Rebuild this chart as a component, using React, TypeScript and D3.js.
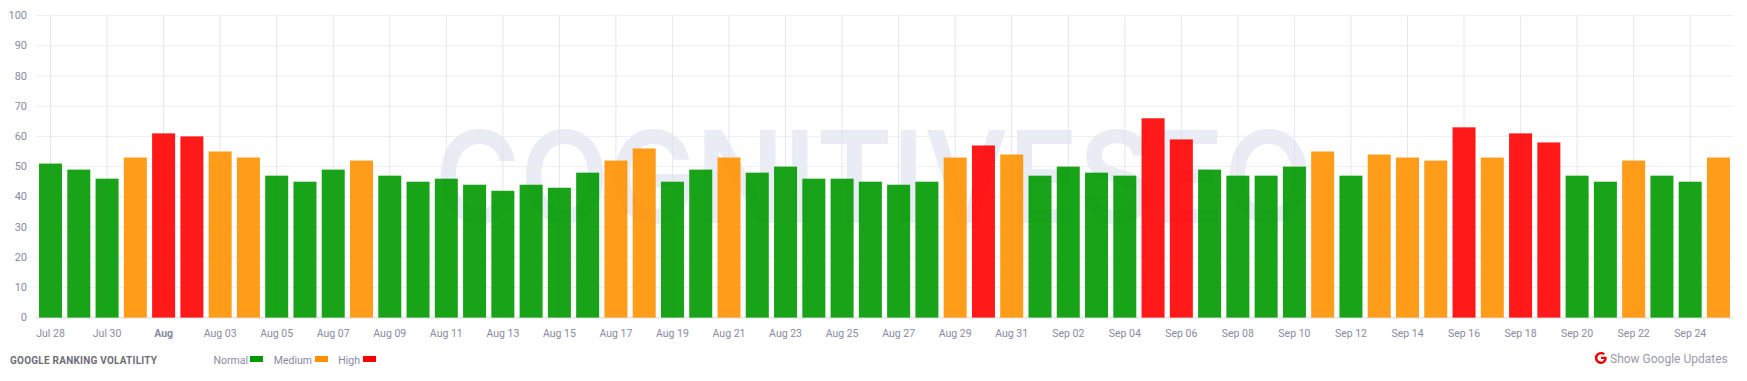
import React from "react";
import * as d3 from "d3";

const dates: string[] = [
  "Jul 28","Jul 29","Jul 30","Jul 31","Aug 01","Aug 02","Aug 03","Aug 04","Aug 05","Aug 06","Aug 07","Aug 08","Aug 09","Aug 10","Aug 11","Aug 12","Aug 13","Aug 14","Aug 15","Aug 16","Aug 17","Aug 18","Aug 19","Aug 20","Aug 21","Aug 22","Aug 23","Aug 24","Aug 25","Aug 26","Aug 27","Aug 28","Aug 29","Aug 30","Aug 31","Sep 01","Sep 02","Sep 03","Sep 04","Sep 05","Sep 06","Sep 07","Sep 08","Sep 09","Sep 10","Sep 11","Sep 12","Sep 13","Sep 14","Sep 15","Sep 16","Sep 17","Sep 18","Sep 19","Sep 20","Sep 21","Sep 22","Sep 23","Sep 24","Sep 25",
];
const values: number[] = [
  51,49,46,53,61,60,55,53,47,45,49,52,47,45,46,44,42,44,43,48,52,56,45,49,53,48,50,46,46,45,44,45,53,57,54,47,50,48,47,66,59,49,47,47,50,55,47,54,53,52,63,53,61,58,47,45,52,47,45,53,
];
const yTicks: number[] = [0,10,20,30,40,50,60,70,80,90,100];
const levelColors: Record<string,string> = { Normal: "#009900", Medium: "#ff9100", High: "#ff0000" };
const levelNames: string[] = ["Normal","Medium","High"];
const level = (v: number) => (v <= 51 ? "Normal" : v <= 56 ? "Medium" : "High");
const font = "Roboto, sans-serif";
const axisColor = "#8a8a9e";

export default function App() {
  const x = d3.scaleBand<string>().domain(dates).range([36.4, 1732.6]).paddingInner(0.186).paddingOuter(0.093);
  const y = d3.scaleLinear().domain([0, 100]).range([317.6, 15.6]);
  const cx = (d: string) => (x(d) as number) + x.bandwidth() / 2;
  return (
    <svg width={1747} height={381} style={{ position: "absolute", left: 0, top: 0, background: "#fff" }} fontFamily={font}>
      <text x={435} y={223} fontFamily="Inter, sans-serif" fontWeight={600} fontSize={128} fill="#e9ecf4" textLength={878} lengthAdjust="spacingAndGlyphs">COGNITIVESEO</text>
      {yTicks.map((t) => (
        <g key={t}>
          <line x1={36} x2={1733} y1={y(t)} y2={y(t)} stroke={t === 0 ? "#e6e6ea" : "#eeeef1"} strokeWidth={t === 0 ? 1.6 : 1} />
          <text x={27} y={y(t) + 3.5} textAnchor="end" fontSize={11} fill={axisColor}>{t}</text>
        </g>
      ))}
      {dates.map((d, i) => i % 2 === 0 ? (
        <g key={d}>
          <line x1={cx(d)} x2={cx(d)} y1={15.6} y2={317.6} stroke="#dfdfe6" strokeOpacity={0.75} />
          <text x={cx(d)} y={337} textAnchor="middle" fontSize={10.5} fontWeight={d === "Aug 01" ? 700 : 400} fill={axisColor}>{d === "Aug 01" ? "Aug" : d}</text>
        </g>
      ) : null)}
      {dates.map((d, i) => (
        <rect key={d} x={x(d)} y={y(values[i])} width={x.bandwidth()} height={y(0) - y(values[i])} fill={levelColors[level(values[i])]} fillOpacity={0.9} />
      ))}
      <text x={10} y={364} fontSize={10} fontWeight={700} fill="#6e6e78" letterSpacing={0.23}>GOOGLE RANKING VOLATILITY</text>
      {levelNames.map((n, i) => (
        <g key={n}>
          <text x={[248, 312, 360][i]} y={364} textAnchor="end" fontSize={10.5} fill={axisColor}>{n}</text>
          <rect x={[250, 315, 363][i]} y={356} width={13} height={6} fill={levelColors[n]} />
        </g>
      ))}
      <g transform="translate(1594.5,351.5) scale(0.54)">
        <path d="M22.5 11.9c0-.8-.1-1.5-.2-2.2H12v4.3h6c-.3 1.4-1 2.5-2.2 3.3v2.8h3.6c2.1-1.9 3.1-4.8 3.1-8.2z M12 23c3 0 5.5-1 7.400-2.700l-3.600-2.800c-1 .7-2.300 1.100-3.800 1.100-2.900 0-5.400-2-6.300-4.600H1.900v2.900C3.700 20.500 7.600 23 12 23z M5.700 14c-.2-.7-.4-1.400-.4-2.200s.1-1.500.4-2.200V6.700H1.900C1.200 8.200.8 9.900.8 11.800s.4 3.600 1.100 5.100z M12 5c1.600 0 3.100.6 4.200 1.700l3.200-3.200C17.500 1.700 15 .7 12 .7 7.600.7 3.700 3.200 1.900 6.700l3.800 2.900C6.600 7 9.100 5 12 5z" fill="#f00000" />
      </g>
      <text x={1610} y={363} fontSize={12} fill="#9a9aa8">Show Google Updates</text>
    </svg>
  );
}
